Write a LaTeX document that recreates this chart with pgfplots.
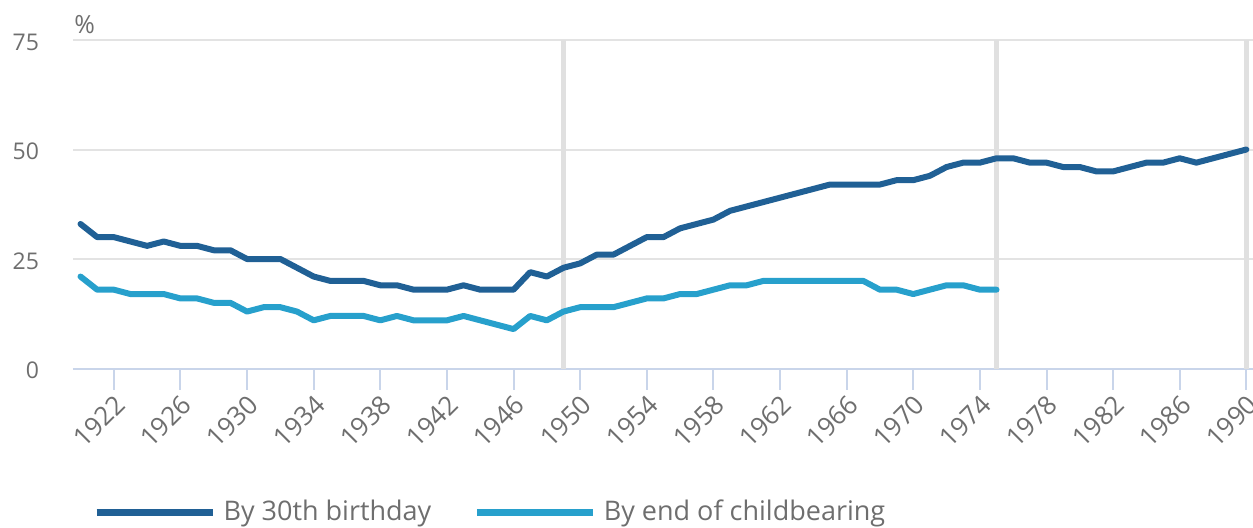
\documentclass[border=0pt]{standalone}
\usepackage{pgfplots}
\pgfplotsset{compat=1.18}
\usepackage{fontspec}
\setmainfont{Open Sans}
\definecolor{dark}{HTML}{206095}
\definecolor{light}{HTML}{27A0CC}
\definecolor{gridc}{HTML}{E3E3E3}
\definecolor{vgrid}{HTML}{E0E0E0}
\definecolor{axisc}{HTML}{C9D5EA}
\definecolor{txt}{HTML}{6E6E6E}
\pgfplotstableread{
year val
1920 33
1921 30
1922 30
1923 29
1924 28
1925 29
1926 28
1927 28
1928 27
1929 27
1930 25
1931 25
1932 25
1933 23
1934 21
1935 20
1936 20
1937 20
1938 19
1939 19
1940 18
1941 18
1942 18
1943 19
1944 18
1945 18
1946 18
1947 22
1948 21
1949 23
1950 24
1951 26
1952 26
1953 28
1954 30
1955 30
1956 32
1957 33
1958 34
1959 36
1960 37
1961 38
1962 39
1963 40
1964 41
1965 42
1966 42
1967 42
1968 42
1969 43
1970 43
1971 44
1972 46
1973 47
1974 47
1975 48
1976 48
1977 47
1978 47
1979 46
1980 46
1981 45
1982 45
1983 46
1984 47
1985 47
1986 48
1987 47
1988 48
1989 49
1990 50
}\thirty
\pgfplotstableread{
year val
1920 21
1921 18
1922 18
1923 17
1924 17
1925 17
1926 16
1927 16
1928 15
1929 15
1930 13
1931 14
1932 14
1933 13
1934 11
1935 12
1936 12
1937 12
1938 11
1939 12
1940 11
1941 11
1942 11
1943 12
1944 11
1945 10
1946 9
1947 12
1948 11
1949 13
1950 14
1951 14
1952 14
1953 15
1954 16
1955 16
1956 17
1957 17
1958 18
1959 19
1960 19
1961 20
1962 20
1963 20
1964 20
1965 20
1966 20
1967 20
1968 18
1969 18
1970 17
1971 18
1972 19
1973 19
1974 18
1975 18
}\endcb
\begin{document}
\begin{tikzpicture}
\useasboundingbox (-36.5pt,-79.25pt) rectangle (590pt,184.25pt);
\begin{axis}[
  scale only axis, width=590pt, height=164.25pt,
  xmin=1919.55, xmax=1990.4, ymin=0, ymax=75,
  clip=false,
  axis x line*=bottom, axis y line*=left,
  y axis line style={draw=none},
  x axis line style={axisc, line width=1pt, -},
  xtick={1922,1926,...,1990},
  ytick={0,25,50,75},
  tick align=outside,
  major tick length=10.5pt,
  xtick style={axisc, line width=1pt},
  ytick style={draw=none},
  ymajorgrids, grid style={gridc, line width=1pt},
  /pgf/number format/assume math mode=true,
  /pgf/number format/set thousands separator={},
  tick label style={font=\fontsize{11.5}{12}\selectfont, text=txt},
  xticklabel style={font=\fontsize{13}{13}\selectfont, rotate=45, anchor=east, xshift=2pt, yshift=-6pt},
  yticklabel style={anchor=east, xshift=-3pt, yshift=-1pt},
  legend style={at={(0.017,-0.437)}, anchor=west, draw=none, fill=none,
    inner sep=0pt, outer sep=0pt, font=\fontsize{13.5}{15}\selectfont, text=txt,
    /tikz/every even column/.append style={column sep=19pt}},
  legend columns=2, legend cell align=left,
  legend image code/.code={\draw[#1, line width=3.5pt, line cap=butt] (0pt,0pt) -- (58pt,0pt); \path (60pt,0pt);},
]
\addplot[forget plot, vgrid, line width=2.2pt] coordinates {(1949,0) (1949,75)};
\addplot[forget plot, vgrid, line width=2.2pt] coordinates {(1975,0) (1975,75)};
\addplot[forget plot, vgrid, line width=2.2pt] coordinates {(1990,0) (1990,75)};
\addplot[dark, line width=3pt, line join=round, line cap=round] table[x=year, y=val] {\thirty};
\addlegendentry{By 30th birthday}
\addplot[light, line width=3pt, line join=round, line cap=round] table[x=year, y=val] {\endcb};
\addlegendentry{By end of childbearing}
\node[anchor=south west, inner sep=0pt, font=\fontsize{12.5}{13}\selectfont, text=txt] at (rel axis cs:0,1) [xshift=0.5pt, yshift=3pt] {\%};
\end{axis}
\end{tikzpicture}
\end{document}
